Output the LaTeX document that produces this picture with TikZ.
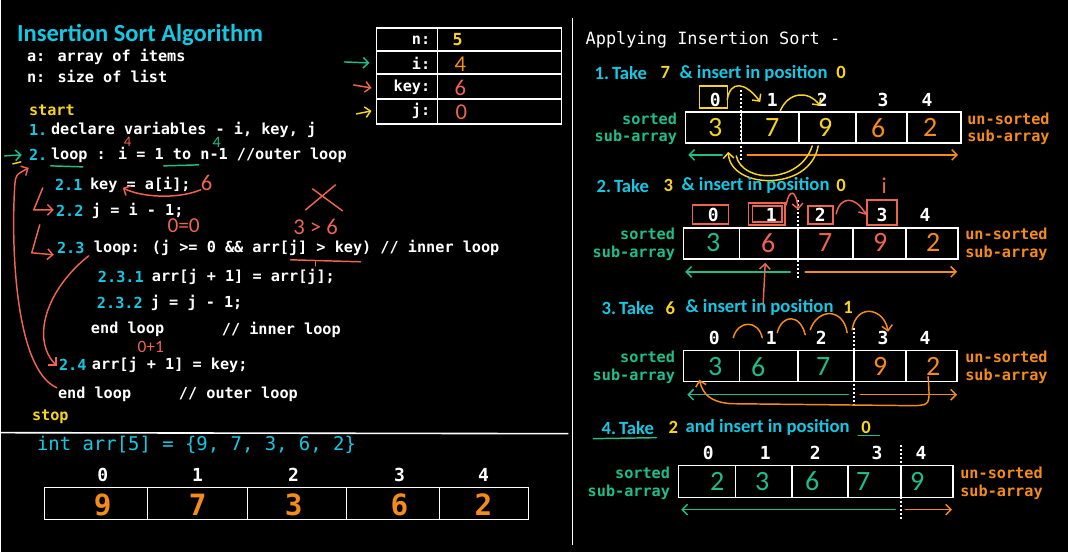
\documentclass[tikz,border=0pt]{standalone}
\usepackage{fontspec}
\setmainfont{Carlito}
\newfontfamily\codefont{DejaVu Sans Mono}
\usetikzlibrary{arrows.meta}
\definecolor{skyc}{RGB}{20,200,228}
\definecolor{yel}{RGB}{246,212,32}
\definecolor{grn}{RGB}{30,190,140}
\definecolor{org}{RGB}{245,140,25}
\definecolor{redh}{RGB}{238,100,80}
\tikzset{
  title/.style={anchor=west,inner sep=0pt,text=skyc,font=\bfseries\fontsize{18.4}{20}\selectfont},
  code/.style={anchor=west,inner sep=0pt,text=white,font=\codefont\bfseries\fontsize{11.4}{13}\selectfont},
  num/.style={code,text=skyc},
  head/.style={anchor=west,inner sep=0pt,text=skyc,font=\bfseries\fontsize{14}{16}\selectfont},
  idx/.style={inner sep=0pt,text=white,font=\codefont\bfseries\fontsize{13.5}{15}\selectfont},
  hand/.style={inner sep=0pt,font=\fontsize{21}{22}\selectfont},
  small hand/.style={inner sep=0pt,font=\fontsize{14}{15}\selectfont},
  cellbox/.style={draw=white,line width=1.1pt},
  hline/.style={line width=1.1pt,line cap=round},
  harrow/.style={hline,-{Straight Barb[length=4pt,width=8pt]}},
  split/.style={white,line width=1.2pt,dash pattern=on 1.5pt off 1.5pt}
}
\begin{document}
\begin{tikzpicture}[x=0.75pt,y=-0.75pt]
\fill[black] (0,0) rectangle (1068,552);
\draw[white,line width=1.2pt] (572,18) -- (572,545);
\draw[white,line width=1.2pt] (0,433) -- (568,434);

\node[title] (title) at (16,35) {Insertion Sort Algorithm};
\node[code] (aa) at (26,57) {a: array of items};
\node[code] (nn) at (26,76) {n: size of list};
\node[code,text=yel] (start) at (28,110) {start};
\node[num] (s1) at (28,130) {1.};
\node[code] (l1) at (50,130) {declare variables - i, key, j};
\node[num] (s2) at (28,155) {2.};
\node[code] (l2) at (50,155) {loop : i = 1 to n-1  //outer loop};
\node[num] (s21) at (54,185) {2.1};
\node[code] (l21) at (89,185) {key = a[i];};
\node[num] (s22) at (55,211) {2.2};
\node[code] (l22) at (91,211) {j = i - 1;};
\node[num] (s23) at (56,248) {2.3};
\node[code] (l23) at (93,248) {loop: (j >= 0 \&\& arr[j] > key) // inner loop};
\node[num] (s231) at (97,277) {2.3.1};
\node[code] (l231) at (151,277) {arr[j + 1] = arr[j];};
\node[num] (s232) at (96,303) {2.3.2};
\node[code] (l232) at (150,303) {j = j - 1;};
\node[code] (ei) at (90,330) {end loop};
\node[code] (eic) at (221,330) {// inner loop};
\node[num] (s24) at (58,365) {2.4};
\node[code] (l24) at (91,365) {arr[j + 1] = key;};
\node[code] (eo) at (57,395) {end loop};
\node[code] (eoc) at (178,395) {// outer loop};
\node[code,text=yel] (stop) at (31,417) {stop};

\node[code,text=skyc,font=\codefont\fontsize{14.2}{16}\selectfont] (decl) at (36,445) {int arr[5] = \{9, 7, 3, 6, 2\}};
\draw[cellbox] (44,488) rectangle (528,520);
\foreach \x in {147,247,346,439} \draw[cellbox] (\x,488) -- (\x,520);
\foreach \x/\v [count=\k from 0] in {102/9,197/7,293/3,399/6,483/2} {
  \node[idx] (b\k) at (\x,475) {\k};
  \node[inner sep=0pt,text=org,font=\codefont\bfseries\fontsize{22}{22}\selectfont] (bv\k) at (\x,505) {\v};
}

% variables table
\draw[cellbox] (376,28) rectangle (561,124);
\draw[cellbox] (437,28) -- (437,124);
\foreach \y in {51,74,99} \draw[cellbox] (376,\y) -- (561,\y);
\node[code,anchor=east] (tn) at (430,40) {n:};
\node[code,anchor=east] (ti) at (430,63) {i:};
\node[code,anchor=east] (tk) at (430,87) {key:};
\node[code,anchor=east] (tj) at (430,111) {j:};
\node[code,text=yel,font=\codefont\bfseries\fontsize{12.5}{13}\selectfont] (vn) at (452,40) {5};
\node[small hand,text=org,font=\fontsize{17}{17}\selectfont] (vi) at (460,64) {4};
\node[small hand,text=redh,font=\fontsize{17}{17}\selectfont] (vk) at (460,88) {6};
\node[small hand,text=redh,font=\fontsize{17}{17}\selectfont] (vj) at (461,112) {0};
\draw[harrow,grn] (344,62) -- (369,63);
\draw[harrow,redh] (353,85) -- (371,88);
\draw[harrow,yel] (356,114) -- (371,111);

% notes on the code
\draw[harrow,grn] (4,156) -- (21,155);
\draw[hline,grn] (50,166) -- (82,167);
\draw[hline,grn] (163,166) -- (198,165);
\draw[hline,yel] (12,164) -- (20,162);
\node[small hand,text=redh,font=\fontsize{11}{11}\selectfont] (n4r) at (127,142) {4};
\node[small hand,text=grn,font=\fontsize{12}{12}\selectfont] (n4g) at (216,142) {4};
\node[small hand,text=redh,font=\fontsize{17}{17}\selectfont] (n6) at (206,183) {6};
\draw[harrow,redh] (200,190) .. controls (175,200) and (140,197) .. (122,188);
\node[small hand,text=redh,font=\fontsize{16}{16}\selectfont] (eq) at (183,226) {0=0};
\node[small hand,text=redh,font=\fontsize{17}{17}\selectfont] (cmp) at (315,227) {3 > 6};
\draw[hline,redh] (312,189) -- (342,211);
\draw[hline,redh] (335,185) -- (305,210);
\draw[hline,redh] (290,260) -- (360,262);
\draw[hline,redh] (315,262) -- (315,266);
\node[small hand,text=redh,font=\fontsize{13}{13}\selectfont] (jp) at (150,347) {0+1};
\draw[harrow,redh] (42,188) -- (33,210) -- (53,210);
\draw[harrow,redh] (39,225) -- (31,253) -- (53,255);
\draw[harrow,redh] (88,256) .. controls (45,290) and (30,340) .. (56,366);
\draw[harrow,redh] (56,388) .. controls (15,370) and (10,250) .. (14,185) .. controls (15,175) .. (28,168);

% right side
\node[code,font=\codefont\fontsize{12.7}{14}\selectfont] (apply) at (585,40) {Applying Insertion Sort -};
\foreach \k/\y/\xl/\xr in {1/128/677/967,2/244/675/965,3/367/675/965,4/483/670/960} {
  \node[code,text=grn,anchor=east] (so\k) at (\xl,\y-9.5) {sorted};
  \node[code,text=grn,anchor=east] (sa\k) at (\xl,\y+9.5) {sub-array};
  \node[code,text=org] (us\k) at (\xr,\y-9.5) {un-sorted};
  \node[code,text=org] (ua\k) at (\xr,\y+9.5) {sub-array};
}

% step 1
\node[head] (h1) at (594,73) {1.\,Take};
\node[head,text=yel] (h1v) at (660,73) {7};
\node[head] (h1t) at (679,73) {\& insert in position};
\node[head,text=yel] (h1p) at (836,73) {0};
\draw[cellbox] (685,112) rectangle (961,143);
\foreach \x in {741,799,856,907} \draw[cellbox] (\x,112) -- (\x,143);
\foreach \x [count=\k from 0] in {715,772,822,883,927} \node[idx] (a1\k) at (\x,100) {\k};
\foreach \x/\v/\c [count=\k from 0] in {715/3/yel,772/7/yel,825/9/yel,878/6/org,930/2/org}
  \node[hand,text=\c] (c1\k) at (\x,128) {\v};
\draw[split] (741,90) -- (741,161);
\draw[harrow,grn] (722,155) -- (688,155);
\draw[harrow,org] (747,155) -- (958,155);
\draw[hline,yel] (699,86) rectangle (727,108);
\draw[harrow,yel] (727,100) .. controls (730,80) and (745,82) .. (760,102);
\draw[harrow,yel] (780,111) .. controls (788,92) and (808,90) .. (820,106);
\draw[harrow,yel] (818,146) .. controls (810,192) and (730,190) .. (728,152);
\draw[hline,yel] (812,146) .. controls (800,184) and (742,184) .. (736,156);

% step 2
\node[head] (h2) at (596,186) {2.\,Take};
\node[head,text=yel] (h2v) at (663,186) {3};
\node[head] (h2t) at (681,186) {\& insert in position};
\node[head,text=yel] (h2p) at (836,186) {0};
\draw[cellbox] (683,228) rectangle (958,259);
\foreach \x in {739,798,853,906} \draw[cellbox] (\x,228) -- (\x,259);
\foreach \x [count=\k from 0] in {713,771,820,882,925} \node[idx] (a2\k) at (\x,215) {\k};
\foreach \x/\v/\c [count=\k from 0] in {713/3/grn,768/6/redh,825/7/redh,880/9/redh,933/2/org}
  \node[hand,text=\c] (c2\k) at (\x,243) {\v};
\draw[split] (798,200) -- (798,280);
\draw[harrow,grn] (790,272) -- (685,272);
\draw[harrow,org] (805,272) -- (957,272);
\draw[hline,redh] (692,205) rectangle (728,224);
\draw[hline,redh] (748,203) rectangle (785,225);
\draw[hline,redh] (752,206) rectangle (782,222);
\draw[hline,redh] (808,206) rectangle (833,224);
\draw[hline,redh] (867,200) rectangle (897,225);
\draw[harrow,redh] (786,205) .. controls (789,188) and (796,190) .. (798,210);
\draw[harrow,redh] (836,214) .. controls (840,196) and (855,196) .. (866,215);
\node[small hand,text=redh,font=\fontsize{17}{17}\selectfont] (ii) at (884,186) {i};
\draw[harrow,redh] (763,303) -- (765,263);

% step 3
\node[head] (h3) at (601,308) {3.\,Take};
\node[head,text=yel] (h3v) at (665,308) {6};
\node[head] (h3t) at (685,308) {\& insert in position};
\node[head,text=yel] (h3p) at (843,308) {1};
\draw[cellbox] (683,351) rectangle (957,382);
\foreach \x in {739,798,854,906} \draw[cellbox] (\x,351) -- (\x,382);
\foreach \x [count=\k from 0] in {714,771,821,883,925} \node[idx] (a3\k) at (\x,338) {\k};
\foreach \x/\v/\c [count=\k from 0] in {715/3/grn,758/6/grn,823/7/grn,880/9/org,933/2/org}
  \node[hand,text=\c] (c3\k) at (\x,367) {\v};
\draw[split] (854,328) -- (854,405);
\draw[harrow,grn] (848,395) -- (687,395);
\draw[harrow,org] (860,395) -- (957,395);
\draw[hline,org] (733,338) .. controls (738,320) and (758,320) .. (762,338);
\draw[hline,org] (777,333) .. controls (782,314) and (800,314) .. (805,335);
\draw[hline,org] (810,330) .. controls (818,308) and (843,308) .. (847,333);
\draw[harrow,org] (852,330) .. controls (856,303) and (884,308) .. (888,332);
\draw[harrow,org] (928,377) .. controls (930,405) .. (915,406) -- (730,404) .. controls (710,402) and (703,395) .. (699,380);

% step 4
\node[head] (h4) at (601,428) {4.\,Take};
\node[head,text=yel] (h4v) at (668,428) {2};
\node[head] (h4t) at (685,428) {and insert in position};
\node[head,text=yel] (h4p) at (861,428) {0};
\draw[hline,grn] (593,439) -- (656,438);
\draw[hline,grn] (858,436) -- (879,436);
\draw[cellbox] (678,466) rectangle (953,498);
\foreach \x in {735,792,848,901} \draw[cellbox] (\x,466) -- (\x,498);
\foreach \x [count=\k from 0] in {708,765,815,877,921} \node[idx] (a4\k) at (\x,453) {\k};
\foreach \x/\v [count=\k from 0] in {717/2,762/3,812/6,863/7,917/9}
  \node[hand,text=grn] (c4\k) at (\x,482) {\v};
\draw[split] (901,445) -- (901,519);
\draw[harrow,grn] (895,510) -- (681,510);
\draw[harrow,org] (905,510) -- (952,510);
\end{tikzpicture}
\end{document}
